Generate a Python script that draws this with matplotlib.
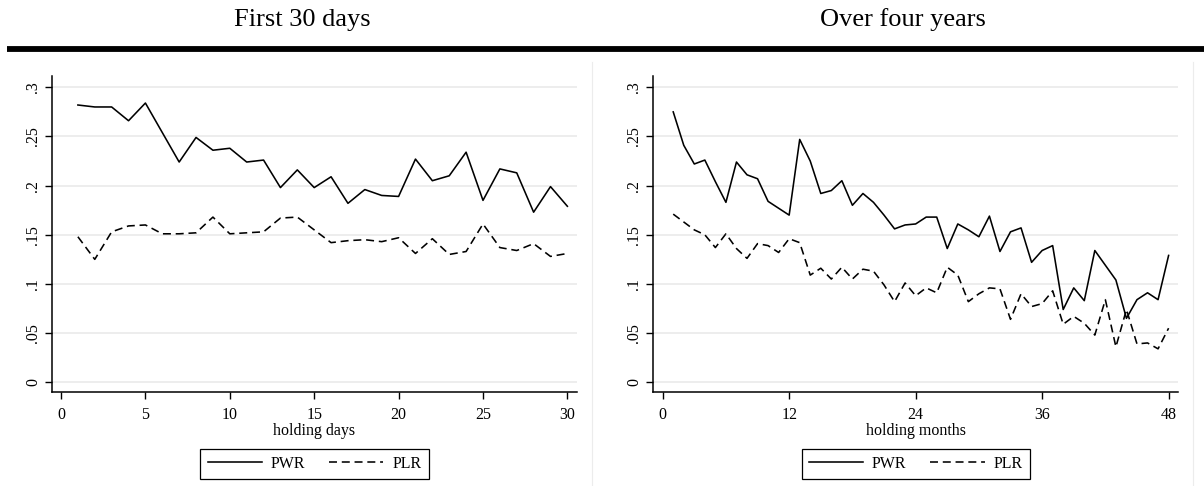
import matplotlib
matplotlib.use("Agg")
import matplotlib.pyplot as plt
from matplotlib.lines import Line2D

plt.rcParams['font.family'] = ['Liberation Serif', 'DejaVu Serif']

# holding days 1..30
days = list(range(1, 31))
pwr_days = [0.282, 0.280, 0.280, 0.266, 0.284, 0.254, 0.224, 0.249, 0.236, 0.238,
            0.224, 0.226, 0.198, 0.216, 0.198, 0.209, 0.182, 0.196, 0.190, 0.189,
            0.227, 0.205, 0.210, 0.234, 0.185, 0.217, 0.213, 0.173, 0.199, 0.179]
plr_days = [0.148, 0.125, 0.153, 0.159, 0.160, 0.151, 0.151, 0.152, 0.168, 0.151,
            0.152, 0.153, 0.167, 0.168, 0.155, 0.142, 0.144, 0.145, 0.143, 0.147,
            0.131, 0.146, 0.130, 0.133, 0.161, 0.137, 0.134, 0.141, 0.128, 0.131]

# holding months 1..48
months = list(range(1, 49))
pwr_months = [0.275, 0.241, 0.222, 0.226, 0.204, 0.183, 0.224, 0.211, 0.207, 0.184,
              0.177, 0.170, 0.247, 0.225, 0.192, 0.195, 0.205, 0.180, 0.192, 0.183,
              0.170, 0.156, 0.160, 0.161, 0.168, 0.168, 0.136, 0.161, 0.155, 0.148,
              0.169, 0.133, 0.153, 0.157, 0.122, 0.134, 0.139, 0.074, 0.096, 0.083,
              0.134, 0.119, 0.104, 0.065, 0.084, 0.091, 0.084, 0.129]
plr_months = [0.171, 0.163, 0.155, 0.150, 0.137, 0.151, 0.136, 0.126, 0.141, 0.139,
              0.132, 0.146, 0.142, 0.109, 0.116, 0.105, 0.117, 0.105, 0.115, 0.113,
              0.099, 0.082, 0.101, 0.088, 0.096, 0.091, 0.117, 0.109, 0.082, 0.090,
              0.096, 0.095, 0.064, 0.090, 0.077, 0.080, 0.093, 0.059, 0.067, 0.060,
              0.048, 0.084, 0.036, 0.074, 0.039, 0.040, 0.034, 0.055]

y_ticks = [0, 0.05, 0.1, 0.15, 0.2, 0.25, 0.3]
y_tick_labels = ["0", ".05", ".1", ".15", ".2", ".25", ".3"]
day_ticks = [0, 5, 10, 15, 20, 25, 30]
month_ticks = [0, 12, 24, 36, 48]

W, H = 1204, 486
fig = plt.figure(figsize=(W / 100, H / 100), dpi=100)

dash = (0, (5, 3))
fs = 11.5


def make_panel(left_px, x, pwr, plr, xticks, xlim, xlabel):
    ax = fig.add_axes([left_px / W, (H - 391.7) / H, 525 / W, 315.7 / H])
    ax.plot(x, pwr, color='black', lw=1.15, label='PWR')
    ax.plot(x, plr, color='black', lw=1.15, linestyle=dash, label='PLR')
    ax.set_ylim(-0.0096, 0.3115)
    ax.set_xlim(*xlim)
    ax.set_yticks(y_ticks)
    ax.set_yticklabels(y_tick_labels, rotation=90, va='center')
    ax.set_xticks(xticks)
    for v in y_ticks:
        ax.axhline(v, color='#eaeaea', lw=1.2, zorder=0)
    for s in ['top', 'right']:
        ax.spines[s].set_visible(False)
    for s in ['left', 'bottom']:
        ax.spines[s].set_linewidth(1.1)
    ax.tick_params(axis='both', direction='out', length=5, width=1.0,
                   labelsize=fs, pad=3)
    ax.tick_params(axis='x', pad=6)
    ax.set_xlabel(xlabel, fontsize=fs, labelpad=0)
    leg = ax.legend(loc='center', bbox_to_anchor=(0.5, -0.229), ncol=2,
                    fontsize=fs, handlelength=3.4, columnspacing=1.5,
                    handletextpad=0.55, borderpad=0.45, borderaxespad=0,
                    fancybox=False, edgecolor='black', framealpha=1)
    leg.get_frame().set_linewidth(0.9)
    return ax


make_panel(52, days, pwr_days, plr_days, day_ticks, (-0.534, 30.57), 'holding days')
make_panel(653.3, months, pwr_months, plr_months, month_ticks, (-0.89, 48.92),
           'holding months')

# panel titles and the heavy rule under them
fig.text(302 / W, 1 - 20 / H, 'First 30 days', ha='center', va='center', fontsize=19)
fig.text(903 / W, 1 - 20 / H, 'Over four years', ha='center', va='center', fontsize=19)
fig.add_artist(Line2D([7 / W, 1], [1 - 49.5 / H] * 2, color='black', lw=4.2,
                      transform=fig.transFigure, solid_capstyle='butt'))

# faint right edges of the two graph regions
for xe in (592, 1193):
    fig.add_artist(Line2D([xe / W] * 2, [0, 1 - 62 / H], color='#ececec', lw=0.8,
                          transform=fig.transFigure))

fig.savefig('out.png', dpi=100)
